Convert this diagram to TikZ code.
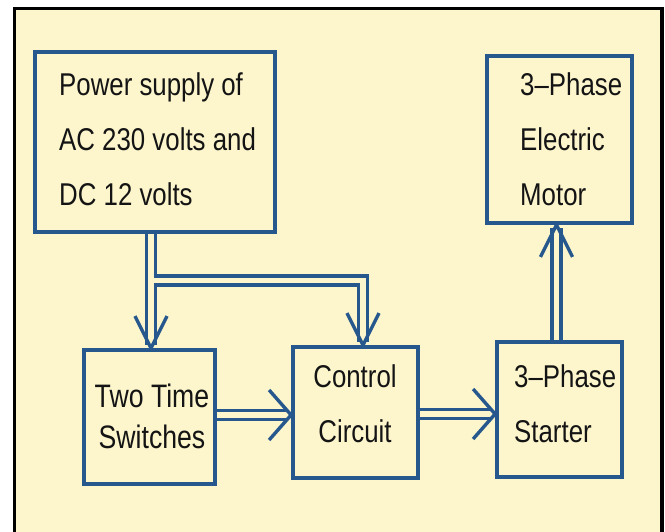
\documentclass[tikz,border=0pt]{standalone}
\usepackage{fontspec}
\setmainfont{Liberation Sans}[FakeStretch=0.82]
\usetikzlibrary{calc}

\definecolor{pipeblue}{RGB}{38,88,142}
\definecolor{paper}{RGB}{253,246,205}

\begin{document}
\begin{tikzpicture}[x=1pt, y=-1pt,
    blockbox/.style={draw=pipeblue, line width=3.8pt, inner sep=0pt},
    blocktext/.style={inner sep=0pt, align=left, text=black!92, font=\fontsize{31.5}{55}\selectfont},
    pipe/.style={draw=pipeblue, line width=3.4pt, double=paper, double distance=5.5pt, shorten >=3pt},
    vtip/.style={draw=pipeblue, line width=3.4pt, line join=round}]

    % page and frame
    \path[use as bounding box, fill=white] (0,0) rectangle (665,532);
    \fill[paper] (15,9) rectangle (662,532);
    \draw[line width=3.5pt] (14.5,532) -- (14.5,8.7) -- (662,8.7) -- (662,532);

    % blocks
    \node[blockbox, minimum width=240pt, minimum height=180pt] (supply) at (155,142) {};
    \node[blockbox, minimum width=145pt, minimum height=167pt] (motor) at (559.5,139.5) {};
    \node[blockbox, minimum width=131pt, minimum height=134pt] (switches) at (149.5,417) {};
    \node[blockbox, minimum width=125pt, minimum height=131pt] (control) at (355.5,412.5) {};
    \node[blockbox, minimum width=125pt, minimum height=135pt] (starter) at (559.5,409.5) {};

    % block texts
    \node[blocktext, anchor=north west] (supplytext) at (59,72.5) {Power supply of\\AC 230 volts and\\DC 12 volts};
    \node[blocktext, anchor=north west] (motortext) at (520,72.5) {3--Phase\\Electric\\Motor};
    \node[blocktext, anchor=north, align=center, font=\fontsize{32.5}{41}\selectfont] (switchestext) at (152,383.8) {Two Time\\Switches};
    \node[blocktext, anchor=north, align=center] (controltext) at (355,364.5) {Control\\Circuit};
    \node[blocktext, anchor=north west] (startertext) at (514,364.5) {3--Phase\\Starter};

    % connection points
    \coordinate (feed) at ($(supply.south)+(-4,0)$);
    \coordinate (split) at ($(supply.south)+(-1.5,46.5)$);
    \coordinate (tap) at ($(control.north)+(7.5,0)$);
    \coordinate (swout) at ($(switches.east)+(0,-2)$);
    \coordinate (ctlout) at ($(control.east)+(0,1.5)$);
    \coordinate (stout) at ($(starter.north)+(-3,0)$);

    % supply to switches and control
    \draw[pipe] (feed) -- (feed |- switches.north);
    \draw[vtip] (feed |- switches.north) ++(-16,-32) -- ++(16,32) -- ++(16,-32);
    \draw[pipe] (split) -| (tap);
    \draw[vtip] (tap) ++(-16,-32) -- ++(16,32) -- ++(16,-32);

    % switches to control, control to starter
    \draw[pipe] (swout) -- (swout -| control.west);
    \draw[vtip] (swout -| control.west) ++(-22,-25) -- ++(22,25) -- ++(-22,25);
    \draw[pipe] (ctlout) -- (ctlout -| starter.west);
    \draw[vtip] (ctlout -| starter.west) ++(-22,-25) -- ++(22,25) -- ++(-22,25);

    % starter to motor
    \draw[pipe] (stout) -- (stout |- motor.south);
    \draw[vtip] (stout |- motor.south) ++(-16,32) -- ++(16,-32) -- ++(16,32);
\end{tikzpicture}
\end{document}
